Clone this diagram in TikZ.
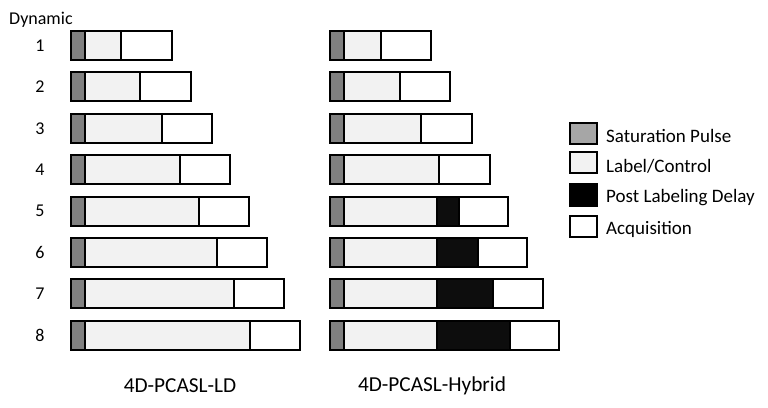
\documentclass[tikz,border=0pt]{standalone}
\usepackage{fontspec}
\setmainfont{Carlito}
\definecolor{satgray}{HTML}{808080}
\definecolor{satlegend}{HTML}{A6A6A6}
\definecolor{lblgray}{HTML}{F2F2F2}
\definecolor{pldblack}{HTML}{0D0D0D}
\tikzset{
  seg/.style={draw=black, line width=2pt},
  txt/.style={font=\fontsize{19}{21}\selectfont, inner sep=0pt},
  numtxt/.style={font=\fontsize{18}{19}\selectfont, inner sep=0pt},
  captxt/.style={font=\fontsize{21.3}{23}\selectfont, inner sep=0pt},
  legbox/.style={draw=black, line width=2pt},
}
\begin{document}
\begin{tikzpicture}[x=1pt,y=-1pt]
\useasboundingbox (0,0) rectangle (768,407);
\fill[white] (0,0) rectangle (768,407);
\node[numtxt, anchor=west] (dyn) at (9,20) {Dynamic};
% left sequence
\foreach \i/\l/\e in {1/121/172,2/140/191,3/162/212,4/180/230,5/199/249,6/217/267,7/234/284,8/250/300}{
  \pgfmathsetmacro{\t}{31+(\i-1)*41.4}
  \pgfmathsetmacro{\b}{\t+29}
  \pgfmathsetmacro{\c}{\t+14.5}
  \node[numtxt] (n\i) at (40,\c) {\i};
  \draw[seg, fill=white] (\l,\t) rectangle (\e,\b);
  \draw[seg, fill=lblgray] (85,\t) rectangle (\l,\b);
  \draw[seg, fill=satgray] (71,\t) rectangle (85,\b);
}
% right sequence (no PLD)
\foreach \i/\l/\e in {1/381/431,2/400/450,3/421/472,4/439/490}{
  \pgfmathsetmacro{\t}{31+(\i-1)*41.4}
  \pgfmathsetmacro{\b}{\t+29}
  \draw[seg, fill=white] (\l,\t) rectangle (\e,\b);
  \draw[seg, fill=lblgray] (344,\t) rectangle (\l,\b);
  \draw[seg, fill=satgray] (330,\t) rectangle (344,\b);
}
% right sequence (with PLD)
\foreach \i/\p/\e in {5/459/508,6/478/527,7/493/543,8/510/559}{
  \pgfmathsetmacro{\t}{31+(\i-1)*41.4}
  \pgfmathsetmacro{\b}{\t+29}
  \draw[seg, fill=white] (\p,\t) rectangle (\e,\b);
  \draw[seg, fill=pldblack] (437,\t) rectangle (\p,\b);
  \draw[seg, fill=lblgray] (344,\t) rectangle (437,\b);
  \draw[seg, fill=satgray] (330,\t) rectangle (344,\b);
}
% legend
\draw[legbox, fill=satlegend] (570,123) rectangle (597,144);
\draw[legbox, fill=lblgray] (570,152) rectangle (597,173);
\draw[legbox, fill=black] (570,184) rectangle (597,206);
\draw[legbox, fill=white] (570,216) rectangle (597,237);
\node[txt, anchor=west] (l1) at (606,136) {Saturation Pulse};
\node[txt, anchor=west] (l2) at (606,166) {Label/Control};
\node[txt, anchor=west] (l3) at (606,198) {Post Labeling Delay};
\node[txt, anchor=west] (l4) at (606,229) {Acquisition};
% captions
\node[captxt] (cap1) at (180,386) {4D-PCASL-LD};
\node[captxt] (cap2) at (432,386) {4D-PCASL-Hybrid};
\end{tikzpicture}
\end{document}
